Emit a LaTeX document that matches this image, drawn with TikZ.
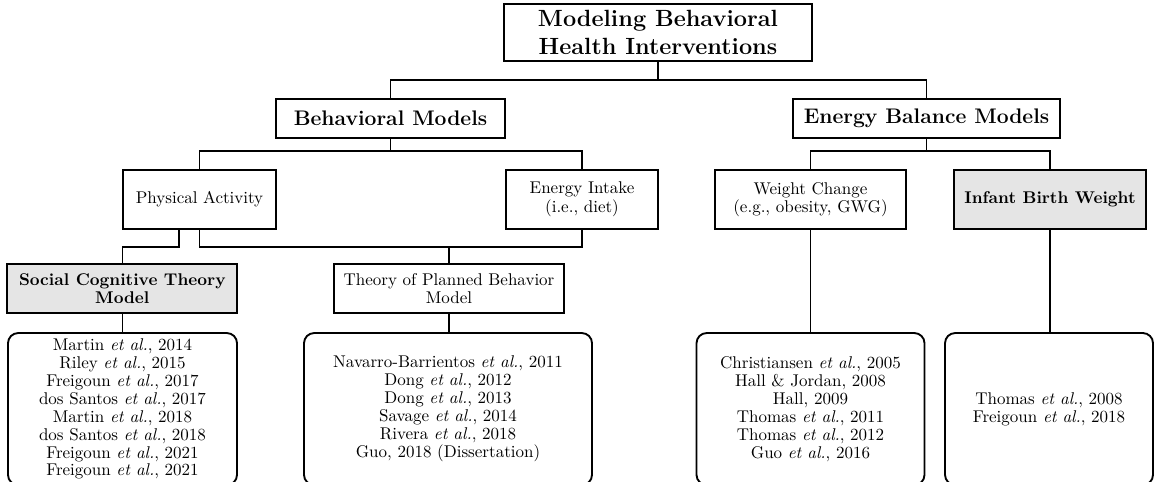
\documentclass[tikz,border=0pt]{standalone}
\usetikzlibrary{calc}
\begin{document}
\begin{tikzpicture}[x=0.5882pt,y=-0.5882pt,
  box/.style={draw, line width=1.1pt, inner sep=0pt, align=center},
  sz/.style 2 args={minimum width=#1*0.5882pt, minimum height=#2*0.5882pt},
  hilite/.style={fill=black!10},
  refbox/.style={draw, line width=1.1pt, inner sep=0pt, align=center, rounded corners=6pt,
     font=\fontsize{10}{10.55}\selectfont},
  conn/.style={line width=0.9pt},
  bigbf/.style={font=\fontsize{13.8}{16.3}\selectfont\bfseries},
  midbf/.style={font=\fontsize{12.4}{14}\selectfont\bfseries},
  norm/.style={font=\fontsize{10}{11}\selectfont},
  normbf/.style={font=\fontsize{10}{10.6}\selectfont\bfseries}
]
\useasboundingbox (0,0) rectangle (1156,481);
% level 0
\node[box,sz={308}{57},bigbf] (top) at (658,32.5) {Modeling Behavioral\\Health Interventions};
% level 1
\node[box,sz={229}{39},midbf] (behav) at (390.5,118.5) {Behavioral Models};
\node[box,sz={267}{39},midbf] (energy) at (926.5,118.5) {Energy Balance Models};
% level 2
\node[box,sz={153}{59},norm] (pa) at (199.5,199.5) {Physical Activity};
\node[box,sz={152}{59},norm] (ei) at (582,199.5) {Energy Intake\\(i.e., diet)};
\node[box,sz={191}{59},norm] (wc) at (810.5,199.5) {Weight Change\\(e.g., obesity, GWG)};
\node[box,hilite,sz={192}{59},normbf] (ibw) at (1050,199.5) {Infant Birth Weight};
% level 3
\node[box,hilite,sz={230}{49},normbf] (sct) at (122.3,288.5) {Social Cognitive Theory\\Model};
\node[box,sz={230}{49},norm] (tpb) at (449,288.5) {Theory of Planned Behavior\\Model};
% references
\node[refbox,sz={229}{152}] (r1) at (122.5,409) {Martin \textit{et al.}, 2014\\Riley \textit{et al.}, 2015\\Freigoun \textit{et al.}, 2017\\dos Santos \textit{et al.}, 2017\\Martin \textit{et al.}, 2018\\dos Santos \textit{et al.}, 2018\\Freigoun \textit{et al.}, 2021\\Freigoun \textit{et al.}, 2021};
\node[refbox,sz={288}{152}] (r2) at (448,409) {Navarro-Barrientos \textit{et al.}, 2011\\Dong \textit{et al.}, 2012\\Dong \textit{et al.}, 2013\\Savage \textit{et al.}, 2014\\Rivera \textit{et al.}, 2018\\Guo, 2018 (Dissertation)};
\node[refbox,sz={228}{152}] (r3) at (810.5,409) {Christiansen \textit{et al.}, 2005\\Hall \& Jordan, 2008\\Hall, 2009\\Thomas \textit{et al.}, 2011\\Thomas \textit{et al.}, 2012\\Guo \textit{et al.}, 2016};
\node[refbox,sz={208}{152}] (r4) at (1049,409) {Thomas \textit{et al.}, 2008\\Freigoun \textit{et al.}, 2018};
% junction levels
\coordinate (j1) at (0,80);
\coordinate (j2) at (0,151);
\coordinate (j3) at (0,247);
% connectors
\draw[conn] (top.south) -- (top.south |- j1) -| (behav.north);
\draw[conn] (top.south |- j1) -| (energy.north);
\draw[conn] (behav.south) -- (behav.south |- j2) -| (pa.north);
\draw[conn] (behav.south |- j2) -| (ei.north);
\draw[conn] (energy.south) -- (energy.south |- j2) -| (wc.north);
\draw[conn] (energy.south |- j2) -| (ibw.north);
\draw[conn] ($(pa.south)+(-20.5,0)$) coordinate (pl) -- (pl |- j3) -| (sct.north);
\draw[conn] (pa.south) -- (pa.south |- j3) -| (ei.south);
\draw[conn] (tpb.north) -- (tpb.north |- j3);
\draw[conn] (sct.south) -- (sct.south |- r1.north);
\draw[conn] (tpb.south) -- (tpb.south |- r2.north);
\draw[conn] (wc.south) -- (wc.south |- r3.north);
\draw[conn] (ibw.south) -- (ibw.south |- r4.north);
\end{tikzpicture}
\end{document}
